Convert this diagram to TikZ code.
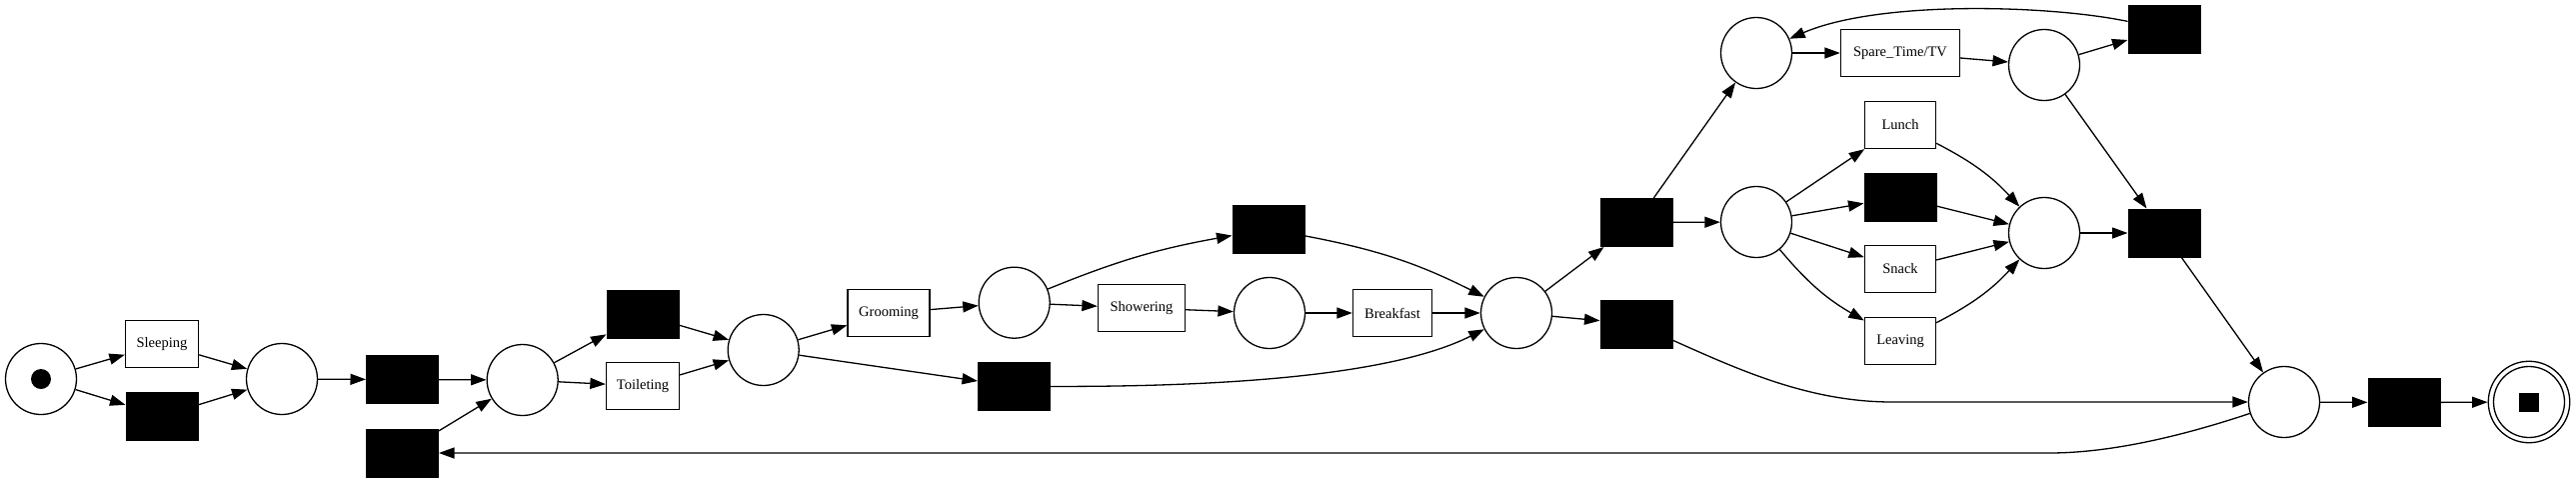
\documentclass[tikz,border=0pt]{standalone}
\usepackage{fontspec}
\setmainfont{Liberation Serif}
\usetikzlibrary{arrows.meta}
\begin{document}
\begin{tikzpicture}[x=1pt,y=-1pt,
  place/.style={circle, draw, line width=1.3pt, minimum size=71pt, inner sep=0pt},
  trans/.style={rectangle, draw, line width=1.3pt, minimum height=47pt, inner sep=0pt, font=\fontsize{14.5pt}{17pt}\selectfont},
  hidden/.style={rectangle, draw, fill=black, line width=1pt, minimum width=72pt, minimum height=48pt, inner sep=0pt},
  arc/.style={-{Triangle[length=15.5pt,width=11pt]}, line width=1.3pt}]
\useasboundingbox (0,0) rectangle (2577,483);
\fill[white] (0,0) rectangle (2577,483);
% places
\node[place] (p0) at (41,379) {};
\fill (p0.center) circle (10pt);
\node[place] (p1) at (282,379) {};
\node[place] (p2) at (522.7,380) {};
\node[place] (p3) at (763.7,350) {};
\node[place] (p4) at (1014.7,302.7) {};
\node[place] (p5) at (1270,313) {};
\node[place] (p6) at (1517,313) {};
\node[place] (p7) at (1757,53) {};
\node[place] (p8) at (1757,222) {};
\node[place] (p9) at (2045,65) {};
\node[place] (p10) at (2045,233) {};
\node[place] (p11) at (2285,402) {};
\node[circle, draw, line width=1.3pt, minimum size=81.5pt, inner sep=0pt] (pf) at (2530,402) {};
\node[place] (pfin) at (2530,402) {};
\node[rectangle, fill=black, minimum width=20pt, minimum height=19pt, inner sep=0pt] (tok) at (2530,402) {};
% labelled transitions
\node[trans, minimum width=73pt] (sleep) at (162,344) {Sleeping};
\node[trans, minimum width=73pt] (toilet) at (643,386) {Toileting};
\node[trans, minimum width=82pt] (groom) at (889,313) {Grooming};
\node[trans, minimum width=87pt] (shower) at (1142,308) {Showering};
\node[trans, minimum width=79pt] (breakfast) at (1393,313) {Breakfast};
\node[trans, minimum width=119pt] (spare) at (1901,53) {Spare\_Time/TV};
\node[trans, minimum width=71pt] (lunch) at (1901,125) {Lunch};
\node[trans, minimum width=71pt] (snack) at (1901,269) {Snack};
\node[trans, minimum width=71pt] (leaving) at (1901,341) {Leaving};
% hidden transitions
\node[hidden] (hSleep) at (162,416) {};
\node[hidden] (h1) at (402.5,379.5) {};
\node[hidden] (hLoop) at (402.5,453) {};
\node[hidden] (h2) at (643,314.5) {};
\node[hidden] (hGroom) at (1014.5,386.3) {};
\node[hidden] (hShower) at (1269,229) {};
\node[hidden] (hSplit) at (1637,222.5) {};
\node[hidden] (hMid) at (1637,324) {};
\node[hidden] (hMeal) at (1901,197) {};
\node[hidden] (hSpare) at (2165,29) {};
\node[hidden] (hJoin) at (2165,233) {};
\node[hidden] (hEnd) at (2405,402.5) {};
% arcs
\draw[arc] (p0) -- (sleep);
\draw[arc] (p0) -- (hSleep);
\draw[arc] (sleep) -- (p1);
\draw[arc] (hSleep) -- (p1);
\draw[arc] (p1) -- (h1);
\draw[arc] (h1) -- (p2);
\draw[arc] (hLoop) -- (p2);
\draw[arc] (p2) -- (h2);
\draw[arc] (p2) -- (toilet);
\draw[arc] (h2) -- (p3);
\draw[arc] (toilet) -- (p3);
\draw[arc] (p3) -- (groom);
\draw[arc] (p3) -- (hGroom);
\draw[arc] (groom) -- (p4);
\draw[arc] (p4) -- (shower);
\draw[arc] (p4) to[bend left=6] (hShower);
\draw[arc] (shower) -- (p5);
\draw[arc] (p5) -- (breakfast);
\draw[arc] (breakfast) -- (p6);
\draw[arc] (hShower) to[bend left=8] (p6);
\draw[arc] (hGroom) .. controls (1250,387) and (1400,372) .. (p6);
\draw[arc] (p6) -- (hSplit);
\draw[arc] (p6) -- (hMid);
\draw[arc] (hSplit) -- (p7);
\draw[arc] (hSplit) -- (p8);
\draw[arc] (p7) -- (spare);
\draw[arc] (spare) -- (p9);
\draw[arc] (p9) -- (hSpare);
\draw[arc] (hSpare) .. controls (2050,5) and (1880,0) .. (p7);
\draw[arc] (p9) -- (hJoin);
\draw[arc] (p8) -- (lunch);
\draw[arc] (p8) -- (hMeal);
\draw[arc] (p8) -- (snack);
\draw[arc] (p8) to[bend right=10] (leaving);
\draw[arc] (lunch) to[bend left=10] (p10);
\draw[arc] (hMeal) -- (p10);
\draw[arc] (snack) -- (p10);
\draw[arc] (leaving) to[bend right=10] (p10);
\draw[arc] (p10) -- (hJoin);
\draw[arc] (hJoin) -- (p11);
\draw[arc] (hMid) .. controls (1740,370) and (1810,402) .. (1893,402) -- (p11);
\draw[arc] (p11) .. controls (2180,437) and (2110,453) .. (2050,453) -- (hLoop);
\draw[arc] (p11) -- (hEnd);
\draw[arc] (hEnd) -- (pf);
\end{tikzpicture}
\end{document}
